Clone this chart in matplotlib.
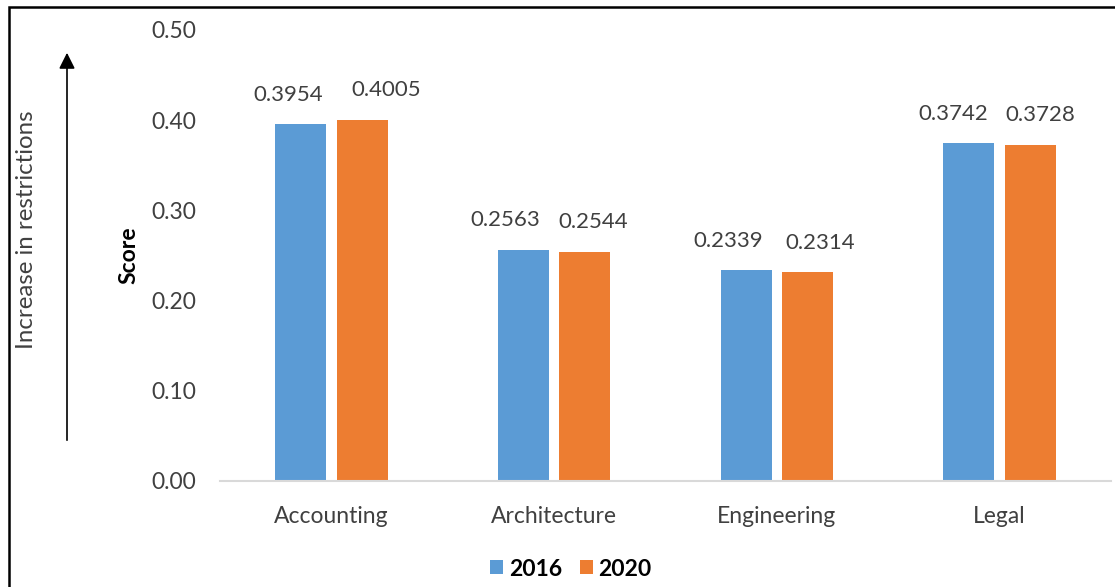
import numpy as np
import matplotlib.pyplot as plt
from matplotlib.patches import Rectangle, FancyArrowPatch

# scores by profession
categories = ["Accounting", "Architecture", "Engineering", "Legal"]
years = ["2016", "2020"]
scores_2016 = [0.3954, 0.2563, 0.2339, 0.3742]
scores_2020 = [0.4005, 0.2544, 0.2314, 0.3728]

plt.rcParams['font.family'] = ['Lato', 'DejaVu Sans']

blue = '#5B9BD5'
orange = '#ED7D31'
txt = '#404040'
fs = 16.5

fig = plt.figure(figsize=(11.15, 5.87), dpi=100)
ax = fig.add_axes([0.1973, 0.1806, 0.7991, 0.7683])

x = np.arange(len(categories))
w = 0.229
off = 0.138
b1 = ax.bar(x - off, scores_2016, w, color=blue, label=years[0])
b2 = ax.bar(x + off, scores_2020, w, color=orange, label=years[1])

# labels nudged sideways so neighbours don't collide
nudge_2016 = [-9, -13, -13, -11]
nudge_2020 = [17, 6, 9, 7]
for bars, vals, nudge in ((b1, scores_2016, nudge_2016), (b2, scores_2020, nudge_2020)):
    for r, v, dx in zip(bars, vals, nudge):
        ax.annotate(f"{v:.4f}", (r.get_x() + r.get_width() / 2, v),
                    xytext=(dx, 14), textcoords='offset points',
                    ha='center', va='bottom', fontsize=16, color=txt)

ax.set_xlim(-0.5, 3.5)
ax.set_ylim(0, 0.5)
ax.set_yticks(np.arange(0, 0.51, 0.1))
ax.set_yticklabels([f"{t:.2f}" for t in np.arange(0, 0.51, 0.1)])
ax.set_xticks(x)
ax.set_xticklabels(categories)
ax.tick_params(axis='both', length=0, labelsize=fs, colors=txt)
ax.tick_params(axis='y', pad=17)
ax.tick_params(axis='x', pad=18)
for s in ['top', 'right', 'left']:
    ax.spines[s].set_visible(False)
ax.spines['bottom'].set_color('#D9D9D9')
ax.spines['bottom'].set_linewidth(1.5)

ax.set_ylabel("Score", fontsize=fs, fontweight='bold', color='black', labelpad=9)

# direction arrow on the left
fig.patches.append(FancyArrowPatch(
    (67 / 1115, 1 - 443 / 587), (67 / 1115, 1 - 50 / 587),
    transform=fig.transFigure, arrowstyle='-|>', mutation_scale=24,
    color='black', lw=1.2))
fig.text(27 / 1115, 1 - 230 / 587, "Increase in restrictions", rotation=90,
         ha='center', va='center', fontsize=17.3, color=txt)

leg = fig.legend(loc='center', bbox_to_anchor=(571 / 1115, 1 - 569 / 587),
                 ncol=2, frameon=False, fontsize=fs, handlelength=0.55,
                 handleheight=0.55, handletextpad=0.25, columnspacing=0.8)
for t in leg.get_texts():
    t.set_fontweight('bold')

# outer frame
fig.patches.append(Rectangle((9 / 1115, -0.05), 1.1, 1 - 7 / 587 + 0.05,
                             transform=fig.transFigure, fill=False,
                             edgecolor='black', lw=1.8))

fig.savefig("out.png", dpi=100)
